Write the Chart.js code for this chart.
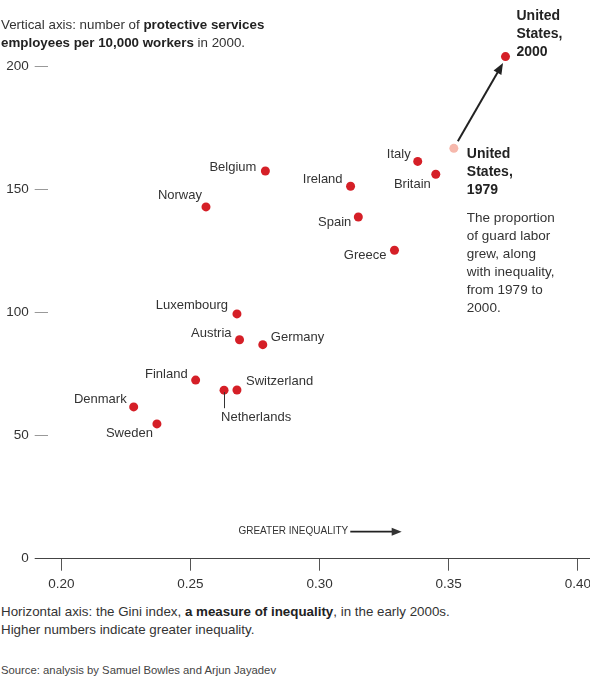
<!DOCTYPE html>
<html>
<head>
<meta charset="utf-8">
<script src="https://cdn.jsdelivr.net/npm/chart.js@4"></script>
<style>
  body { margin: 0; background: #fff; width: 590px; height: 680px; overflow: hidden; position: relative;
         font-family: "Liberation Sans", Arial, sans-serif; color: #333; }
  #wrap { position: absolute; left: 0; top: 0; width: 590px; height: 600px; overflow: hidden; }
  .txt { position: absolute; left: 1px; font-size: 13.35px; line-height: 18px; color: #333; white-space: nowrap; }
  .txt b { color: #222; }
  .src { position: absolute; left: 1px; top: 663px; font-size: 11.3px; line-height: 14px; color: #444; }
</style>
</head>
<body>
<div id="wrap"><canvas id="visualChart" width="610" height="596"></canvas></div>
<div class="txt" style="top:16px">Vertical axis: number of <b>protective services</b><br><b>employees per 10,000 workers</b> in 2000.</div>
<div class="txt" style="top:603px">Horizontal axis: the Gini index, <b>a measure of inequality</b>, in the early 2000s.<br>Higher numbers indicate greater inequality.</div>
<div class="src">Source: analysis by Samuel Bowles and Arjun Jayadev</div>
<script>
const countries = ["United States, 2000", "United States, 1979", "Italy", "Britain", "Ireland", "Belgium",
  "Norway", "Spain", "Greece", "Luxembourg", "Austria", "Germany", "Finland", "Netherlands",
  "Switzerland", "Denmark", "Sweden"];
const gini = [0.372, 0.352, 0.338, 0.345, 0.312, 0.279, 0.256, 0.315, 0.329, 0.268, 0.269, 0.278,
  0.252, 0.263, 0.268, 0.228, 0.237];
const guards = [204.1, 166.8, 161.5, 156.3, 151.4, 157.6, 143.0, 138.9, 125.4, 99.5, 89.0, 87.0,
  72.6, 68.5, 68.6, 61.7, 54.8];
const xTicks = [0.20, 0.25, 0.30, 0.35, 0.40];
const yTicks = [0, 50, 100, 150, 200];
const note = ["The proportion", "of guard labor", "grew, along", "with inequality,", "from 1979 to", "2000."];

// label placement relative to each dot (pixels)
const labelPos = {
  "Italy": ["right", -7, -7], "Britain": ["right", -5, 10], "Ireland": ["right", -8, -7],
  "Belgium": ["right", -9, -4], "Norway": ["right", -4, -11], "Spain": ["right", -7, 5],
  "Greece": ["right", -8, 5], "Luxembourg": ["right", -9, -9], "Austria": ["right", -8, -6],
  "Germany": ["left", 8, -7], "Finland": ["right", -8, -6], "Switzerland": ["left", 9, -9],
  "Denmark": ["right", -7, -7], "Sweden": ["right", -4, 10], "Netherlands": ["left", -3, 27],
};

const RED = "#d51f27";
const PINK = "#f6b8ac";

const labelPlugin = {
  id: "labels",
  afterDatasetsDraw(c) {
    const ctx = c.ctx;
    const xs = c.scales.x, ys = c.scales.y;
    ctx.save();
    ctx.fillStyle = "#333";
    ctx.textBaseline = "middle";
    ctx.font = '13px "Liberation Sans", Arial, sans-serif';
    countries.forEach((name, i) => {
      const p = labelPos[name];
      if (!p) return;
      const px = xs.getPixelForValue(gini[i]);
      const py = ys.getPixelForValue(guards[i]);
      ctx.textAlign = p[0];
      ctx.fillText(name, px + p[1], py + p[2]);
      if (name == "Netherlands") {
        ctx.strokeStyle = "#333";
        ctx.lineWidth = 1;
        ctx.beginPath();
        ctx.moveTo(Math.round(px) + 0.5, py + 2);
        ctx.lineTo(Math.round(px) + 0.5, py + 18);
        ctx.stroke();
      }
    });

    // US labels
    const ux0 = xs.getPixelForValue(gini[0]), uy0 = ys.getPixelForValue(guards[0]);
    const ux1 = xs.getPixelForValue(gini[1]), uy1 = ys.getPixelForValue(guards[1]);
    ctx.fillStyle = "#222";
    ctx.textAlign = "left";
    ctx.font = 'bold 14px "Liberation Sans", Arial, sans-serif';
    ["United", "States,", "2000"].forEach((t, k) => ctx.fillText(t, ux0 + 11, uy0 - 40 + k * 18));
    ["United", "States,", "1979"].forEach((t, k) => ctx.fillText(t, ux1 + 13, uy1 + 6 + k * 18));
    ctx.fillStyle = "#333";
    ctx.font = '13.5px "Liberation Sans", Arial, sans-serif';
    note.forEach((t, k) => ctx.fillText(t, ux1 + 13, uy1 + 70 + k * 18));

    // arrow from 1979 to 2000
    const ax = ux1 + 4, ay = uy1 - 7;
    const bx = ux0 - 2.5, by = uy0 + 6.5;
    const ang = Math.atan2(by - ay, bx - ax);
    ctx.strokeStyle = "#222";
    ctx.fillStyle = "#222";
    ctx.lineWidth = 2;
    ctx.beginPath();
    ctx.moveTo(ax, ay);
    ctx.lineTo(bx - 8 * Math.cos(ang), by - 8 * Math.sin(ang));
    ctx.stroke();
    ctx.beginPath();
    ctx.moveTo(bx, by);
    ctx.lineTo(bx - 11 * Math.cos(ang) + 4.5 * Math.sin(ang), by - 11 * Math.sin(ang) - 4.5 * Math.cos(ang));
    ctx.lineTo(bx - 11 * Math.cos(ang) - 4.5 * Math.sin(ang), by - 11 * Math.sin(ang) + 4.5 * Math.cos(ang));
    ctx.closePath();
    ctx.fill();

    // greater inequality arrow
    const gy = ys.getPixelForValue(11);
    const gx0 = xs.getPixelForValue(0.3115), gx1 = xs.getPixelForValue(0.3318);
    ctx.font = '10px "Liberation Sans", Arial, sans-serif';
    ctx.fillStyle = "#333";
    ctx.textAlign = "right";
    ctx.fillText("GREATER INEQUALITY", gx0 - 1, gy);
    ctx.lineWidth = 1.8;
    ctx.beginPath();
    ctx.moveTo(gx0 + 1, gy);
    ctx.lineTo(gx1 - 8, gy);
    ctx.stroke();
    ctx.beginPath();
    ctx.moveTo(gx1, gy);
    ctx.lineTo(gx1 - 10, gy - 4);
    ctx.lineTo(gx1 - 10, gy + 4);
    ctx.closePath();
    ctx.fill();
    ctx.restore();
  },
};

const chartBlock = document.querySelector("#visualChart").getContext("2d");
const chart = new Chart(chartBlock, {
  type: "scatter",
  data: {
    datasets: [
      {
        data: gini.map((g, i) => ({ x: g, y: guards[i] })),
        pointBackgroundColor: countries.map((c, i) => (i == 1 ? PINK : RED)),
        pointBorderWidth: 0,
        pointRadius: 4.5,
        pointHoverRadius: 4.5,
      },
    ],
  },
  options: {
    responsive: false,
    animation: false,
    events: [],
    layout: { padding: { left: 0, right: 10, top: 17.5, bottom: 0 } },
    plugins: { legend: { display: false }, tooltip: { enabled: false } },
    scales: {
      x: {
        type: "linear",
        min: 0.1947,
        max: 0.4086,
        afterBuildTicks: (s) => { s.ticks = xTicks.map((v) => ({ value: v })); },
        afterFit: (s) => { s.height = 596 - 558.7; },
        border: { display: true, color: "#444", width: 1 },
        grid: { drawOnChartArea: false, drawTicks: true, tickLength: 12, color: "#555" },
        ticks: {
          padding: 5,
          color: "#333",
          font: { family: "Liberation Sans", size: 13.5 },
          callback: (v) => Number(v).toFixed(2),
        },
      },
      y: {
        min: 0,
        max: 220,
        afterBuildTicks: (s) => { s.ticks = yTicks.map((v) => ({ value: v })); },
        afterFit: (s) => { s.width = 47.7; },
        border: { display: false },
        grid: {
          drawOnChartArea: false,
          drawTicks: true,
          tickLength: 13,
          color: (c) => (c.tick && c.tick.value == 0 ? "#444" : "#999"),
        },
        ticks: {
          padding: 6,
          color: "#333",
          font: { family: "Liberation Sans", size: 13.5 },
          callback: (v) => String(v),
        },
      },
    },
  },
  plugins: [labelPlugin],
});
</script>
</body>
</html>
